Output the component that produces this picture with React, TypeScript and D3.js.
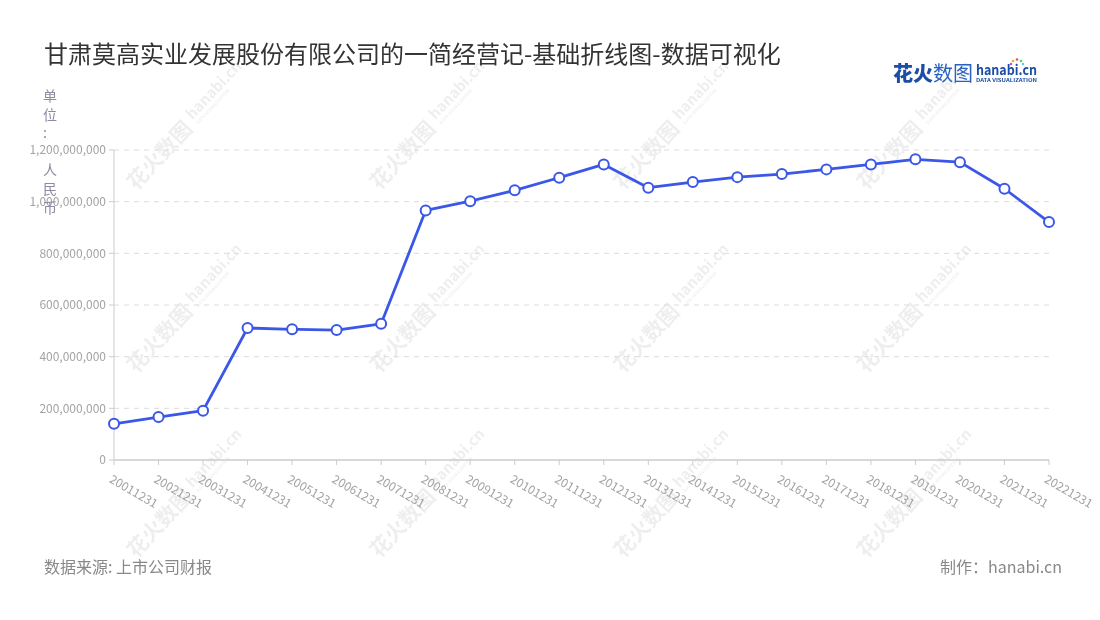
import React from "react";
import * as d3 from "d3";

const dates = [
  "20011231", "20021231", "20031231", "20041231", "20051231", "20061231",
  "20071231", "20081231", "20091231", "20101231", "20111231", "20121231",
  "20131231", "20141231", "20151231", "20161231", "20171231", "20181231",
  "20191231", "20201231", "20211231", "20221231",
];
const values = [
  140e6, 166e6, 191e6, 511e6, 506e6, 503e6,
  527e6, 966e6, 1002e6, 1044e6, 1093e6, 1144e6,
  1054e6, 1076e6, 1095e6, 1107e6, 1125e6, 1144e6,
  1164e6, 1153e6, 1050e6, 921e6,
];
const yTicks = [0, 200e6, 400e6, 600e6, 800e6, 1000e6, 1200e6];
const title = "甘肃莫高实业发展股份有限公司的一简经营记-基础折线图-数据可视化";
const unitLabel = "单位: 人民币";
const sourceText = "数据来源: 上市公司财报";
const makerText = "制作：hanabi.cn";
const wmCols = [185, 428, 672, 915];
const wmRows = [127, 310, 495];

const FONT = "'Noto Sans CJK SC', 'Noto Sans', sans-serif";
const BLUE = "#3a57e8";

export default function App() {
  const x = d3.scalePoint<string>().domain(dates).range([114, 1049]).padding(0);
  const y = d3.scaleLinear().domain([0, 1.2e9]).range([460, 150]);
  const fmt = d3.format(",");
  const line = d3
    .line<number>()
    .x((_, i) => x(dates[i]) as number)
    .y((d) => y(d));

  const unitChars = Array.from(unitLabel);

  return (
    <svg
      width={1100}
      height={620}
      style={{ position: "absolute", left: 0, top: 0, background: "#fff" }}
      fontFamily={FONT}
    >
      <rect width={1100} height={620} fill="#fff" />
      {/* watermarks */}
      <g opacity={0.07} fill="#000">
        {wmRows.map((cy) =>
          wmCols.map((cx) => (
            <g key={`${cx}-${cy}`} transform={`translate(${cx},${cy}) rotate(-47)`}>
              <text x={-80} y={8} fontSize={21} fontWeight={700}>花火数图</text>
              <text x={10} y={1} fontSize={15} fontWeight={700}>hanabi.cn</text>
              <text x={11} y={8} fontSize={4.5} fontWeight={700}>DATA VISUALIZATION</text>
            </g>
          ))
        )}
      </g>

      {/* title */}
      <text x={44} y={63} fontSize={24} fill="#333">{title}</text>

      {/* logo */}
      <g>
        <text x={893} y={81} fontSize={20} fontWeight={900} fill="#1d4ea6">花火</text>
        <text x={933} y={81} fontSize={20} fontWeight={400} fill="#2a62c0">数图</text>
        <text x={976} y={75} fontSize={14} fontWeight={700} fill="#1d4ea6" textLength={61} lengthAdjust="spacingAndGlyphs">hanabi.cn</text>
        <text x={976} y={81.5} fontSize={4.6} fontWeight={700} fill="#1d4ea6" textLength={61} lengthAdjust="spacingAndGlyphs">DATA VISUALIZATION</text>
        <circle cx={1013} cy={61} r={1.3} fill="#f5a623" />
        <circle cx={1017} cy={59.5} r={1.3} fill="#e94e77" />
        <circle cx={1021} cy={61} r={1.3} fill="#4cd964" />
        <circle cx={1023} cy={64} r={1.2} fill="#5ac8fa" />
        <circle cx={1011} cy={64} r={1.2} fill="#af52de" />
      </g>

      {/* grid lines */}
      {yTicks.map((t) =>
        t === 0 ? null : (
          <line
            key={`g${t}`}
            x1={114}
            x2={1049}
            y1={y(t)}
            y2={y(t)}
            stroke="#dcdcdc"
            strokeDasharray="5 5"
          />
        )
      )}

      {/* y axis */}
      <line x1={114} x2={114} y1={y(1.2e9)} y2={y(0)} stroke="#ccc" />
      {yTicks.map((t) => (
        <g key={`y${t}`}>
          <line x1={109} x2={114} y1={y(t)} y2={y(t)} stroke="#ccc" />
          <text x={106} y={y(t)} dy="0.35em" textAnchor="end" fontSize={12} fill="#a3a3a3">
            {fmt(t)}
          </text>
        </g>
      ))}

      {/* unit label */}
      <text fontSize={14} fill="#8b8ba1">
        {unitChars.map((c, i) =>
          c === " " ? null : (
            <tspan key={i} x={43} y={101 + i * 18.6}>{c}</tspan>
          )
        )}
      </text>

      {/* x axis */}
      <line x1={114} x2={1049} y1={y(0)} y2={y(0)} stroke="#ccc" strokeWidth={1.5} />
      {dates.map((d) => (
        <g key={d}>
          <line x1={x(d)} x2={x(d)} y1={y(0)} y2={y(0) + 5} stroke="#ccc" />
          <text
            transform={`translate(${(x(d) as number) - 1},${474}) rotate(30)`}
            dy="0.75em"
            fontSize={12}
            fill="#a3a3a3"
          >
            {d}
          </text>
        </g>
      ))}

      {/* line */}
      <path d={line(values) || ""} fill="none" stroke={BLUE} strokeWidth={2.8} strokeLinejoin="round" />
      {values.map((v, i) => (
        <circle
          key={i}
          cx={x(dates[i])}
          cy={y(v)}
          r={5}
          fill="#fff"
          stroke={BLUE}
          strokeWidth={2}
        />
      ))}

      {/* footer */}
      <text x={44} y={573} fontSize={16} fill="#888">{sourceText}</text>
      <text x={1062} y={573} fontSize={16} fill="#888" textAnchor="end">{makerText}</text>
    </svg>
  );
}
